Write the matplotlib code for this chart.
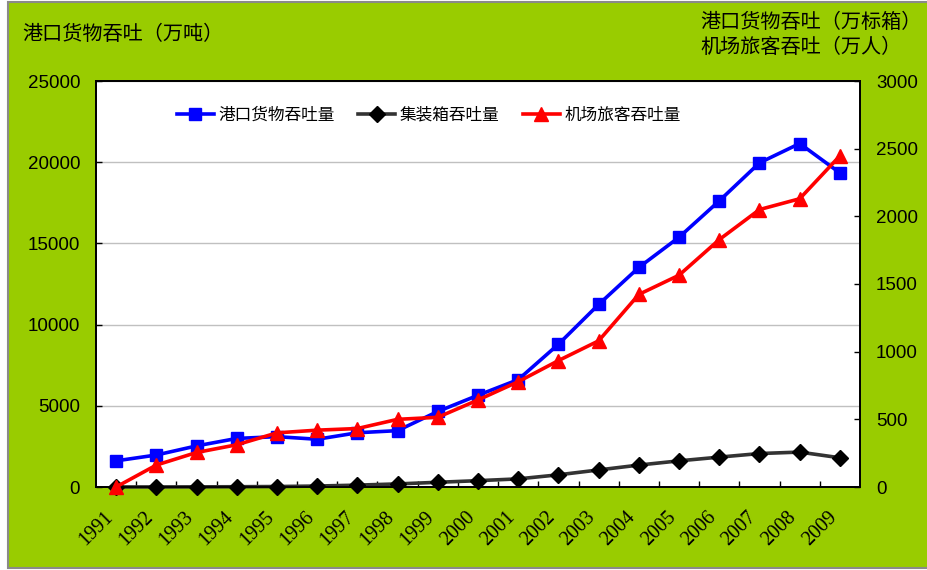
import matplotlib
matplotlib.use("Agg")
import matplotlib.pyplot as plt
from matplotlib.patches import Rectangle
from matplotlib.transforms import ScaledTranslation

plt.rcParams['font.family'] = ['Noto Sans CJK SC', 'DejaVu Sans']

years = ['1991', '1992', '1993', '1994', '1995', '1996', '1997', '1998', '1999', '2000',
         '2001', '2002', '2003', '2004', '2005', '2006', '2007', '2008', '2009']
# 港口货物吞吐量（万吨）
cargo = [1610, 1970, 2530, 2990, 3100, 2940, 3340, 3470, 4650, 5650,
         6610, 8790, 11240, 13520, 15380, 17620, 19960, 21150, 19340]
# 集装箱吞吐量（万标箱）
containers = [3, 4, 8, 17, 29, 59, 115, 190, 290, 390,
              500, 750, 1050, 1350, 1610, 1840, 2060, 2150, 1800]
# 机场旅客吞吐量（万人）
passengers = [0, 162, 255, 312, 400, 420, 432, 500, 515, 643,
              778, 934, 1080, 1423, 1565, 1828, 2050, 2130, 2447]

left_ticks = [0, 5000, 10000, 15000, 20000, 25000]
right_ticks = [0, 500, 1000, 1500, 2000, 2500, 3000]

green = '#99CC00'
fig = plt.figure(figsize=(9.27, 5.70), dpi=100, facecolor='white')
fig.patches.append(Rectangle((8 / 927, 0.0035), 1.0, 0.993, transform=fig.transFigure,
                             facecolor=green, edgecolor='#8a8a8a', linewidth=1.5, zorder=-10))

ax = fig.add_axes([96 / 927, 1 - 487 / 570, (860 - 96) / 927, (487 - 81) / 570])
ax2 = ax.twinx()

x = list(range(len(years)))
lc, = ax.plot(x, cargo, color='#0000FF', lw=2.6, marker='s', ms=8.5, clip_on=False, zorder=3)
lk, = ax.plot(x, containers, color='#333333', lw=2.6, marker='D', ms=8, mfc='black', mec='black',
              clip_on=False, zorder=3)
lp, = ax2.plot(x, passengers, color='#FF0000', lw=2.6, marker='^', ms=10, clip_on=False, zorder=3)

ax.set_xlim(-0.5, len(years) - 0.5)
ax.set_ylim(0, 25000)
ax2.set_ylim(0, 3000)
ax.set_yticks(left_ticks)
ax2.set_yticks(right_ticks)
ax.grid(axis='y', color='#c0c0c0', lw=1)
ax.set_axisbelow(True)

for a in (ax, ax2):
    for s in a.spines.values():
        s.set_color('black')
        s.set_linewidth(1.3)

ax.tick_params(axis='y', direction='in', length=4.5, width=1, pad=11.5, labelsize=13.5,
               labelfontfamily='Liberation Sans')
ax2.tick_params(axis='y', direction='in', length=4.5, width=1, pad=11.5, labelsize=13.5,
                labelfontfamily='Liberation Sans')

# category labels under each point, tick marks on the category boundaries
ax.set_xticks(x)
ax.set_xticklabels(years, rotation=45, ha='right', va='center', rotation_mode='anchor',
                   fontfamily='Liberation Serif', fontsize=14.5)
ax.tick_params(axis='x', which='major', length=0, pad=19.5)
ax.set_xticks([i + 0.5 for i in x[:-1]], minor=True)
ax.tick_params(axis='x', which='minor', direction='in', length=4.5, width=1)
for lab in ax.get_xticklabels():
    lab.set_transform(lab.get_transform() + ScaledTranslation(-0.06, 0, fig.dpi_scale_trans))

fig.text(22 / 927, 1 - 35 / 570, '港口货物吞吐（万吨）', fontsize=14.5, va='center', ha='left')
fig.text(700 / 927, 1 - 22 / 570, '港口货物吞吐（万标箱）', fontsize=14.5, va='center', ha='left')
fig.text(700 / 927, 1 - 47 / 570, '机场旅客吞吐（万人）', fontsize=14.5, va='center', ha='left')

leg = ax2.legend([lc, lk, lp], ['港口货物吞吐量', '集装箱吞吐量', '机场旅客吞吐量'],
                 loc='center', bbox_to_anchor=(429 / 927, 1 - 115 / 570),
                 bbox_transform=fig.transFigure, ncol=3, frameon=False, fontsize=12,
                 handlelength=2.2, handletextpad=0.3, columnspacing=1.4)

fig.savefig('out.png', dpi=100, facecolor=fig.get_facecolor())
